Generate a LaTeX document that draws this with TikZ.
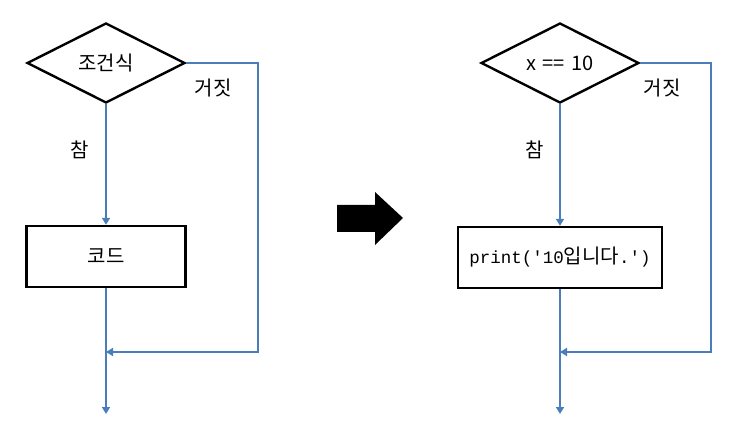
\documentclass[tikz,border=0pt]{standalone}
\usepackage{fontspec}
\setmainfont{Noto Sans CJK KR}
\newfontfamily\codefont{Liberation Mono}
\usetikzlibrary{shapes.geometric,arrows.meta}
\definecolor{flow}{RGB}{74,126,187}
\tikzset{
  x=1pt,y=-1pt,
  decision/.style={diamond,draw=black,line width=2.4pt,minimum width=158pt,minimum height=80pt,inner sep=0pt,aspect=2,font=\fontsize{20}{24}\selectfont},
  codebox/.style={rectangle,draw=black,line width=2.4pt,minimum height=61pt,inner sep=0pt,font=\fontsize{20}{24}\selectfont},
  flowline/.style={draw=flow,line width=2.6pt},
  flowarrow/.style={flowline,-{Triangle[width=8pt,length=7pt]}},
  lbl/.style={font=\fontsize{20}{24}\selectfont,inner sep=0pt}
}
\begin{document}
\begin{tikzpicture}
\useasboundingbox (0,0) rectangle (738,438);
% left
\node[decision] (d1) at (106,63) {조건식};
\node[codebox,minimum width=159pt] (b1) at (106,256.5) {코드};
\coordinate (r1) at (258,63);
\coordinate (c1) at (258,352);
\coordinate (j1) at (106,352);
\coordinate (e1) at (106,414);
\draw[flowarrow] (d1.south) -- (b1.north);
\draw[flowline] (d1.east) -- (r1) -- (c1) -- (j1);
\draw[flowarrow] (c1) -- (j1);
\draw[flowarrow] (b1.south) -- (e1);
\node[lbl] (f1) at (213,88) {거짓};
\node[lbl] (t1) at (80,150) {참};
% big arrow
\fill[black] (337,205) -- (375,205) -- (375,192) -- (403,218) -- (375,245) -- (375,232) -- (337,232) -- cycle;
% right
\node[decision] (d2) at (560,63) {x\,\,==\,\,10};
\node[codebox,minimum width=204pt] (b2) at (560,257.5) {{\fontsize{17.5}{20}\codefont print('10}입니다{\fontsize{17.5}{20}\codefont .')}};
\coordinate (r2) at (711,63);
\coordinate (c2) at (711,352);
\coordinate (j2) at (560,352);
\coordinate (e2) at (560,414);
\draw[flowarrow] (d2.south) -- (b2.north);
\draw[flowline] (d2.east) -- (r2) -- (c2) -- (j2);
\draw[flowarrow] (c2) -- (j2);
\draw[flowarrow] (b2.south) -- (e2);
\node[lbl] (f2) at (662,88) {거짓};
\node[lbl] (t2) at (535,150) {참};
\end{tikzpicture}
\end{document}
